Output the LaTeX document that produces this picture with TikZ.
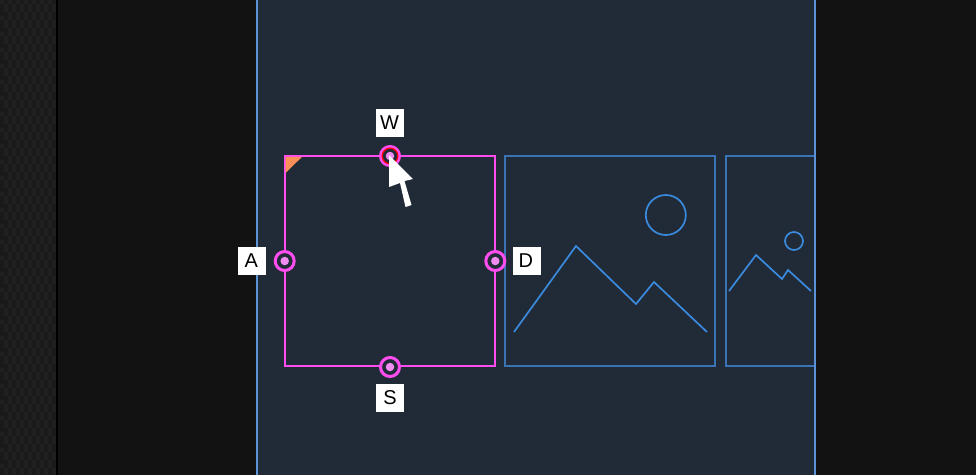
\documentclass[tikz,border=0pt]{standalone}
\usepackage{fontspec}
\setmainfont{Liberation Sans}
\definecolor{bgdark}{HTML}{121212}
\definecolor{texA}{HTML}{1A1A1A}
\definecolor{texB}{HTML}{202020}
\definecolor{panel}{HTML}{212B38}
\definecolor{panelline}{HTML}{5A94D8}
\definecolor{frameline}{HTML}{3A74B4}
\definecolor{artline}{HTML}{3A8ADE}
\definecolor{magenta1}{HTML}{FF4DF0}
\definecolor{dotfill}{HTML}{F08CF0}
\definecolor{cornerfill}{HTML}{F89058}
\tikzset{
  keylabel/.style={fill=white,text=black,inner sep=0pt,minimum width=28pt,minimum height=28pt,font=\fontsize{20}{20}\selectfont},
  handle/.style={circle,draw=magenta1,line width=3pt,fill=panel,minimum size=19pt,inner sep=0pt,outer sep=0pt},
  handledot/.style={circle,fill=dotfill,minimum size=8.5pt,inner sep=0pt},
  frameoutline/.style={draw=frameline,line width=1.6pt},
  art/.style={draw=artline,line width=1.7pt},
}
\begin{document}
\begin{tikzpicture}[x=1pt,y=-1pt]
\useasboundingbox (0,0) rectangle (976,475);
\fill[bgdark] (0,0) rectangle (976,475);
\fill[texA] (0,0) rectangle (56,475);
\begin{scope}
\clip (0,0) rectangle (56,474);
\foreach \i in {0,...,6}{\foreach \j in {0,...,59}{
  \pgfmathsetmacro{\xx}{\i*8+mod(\j,2)*4}
  \pgfmathsetmacro{\yy}{\j*8}
  \fill[texB] (\xx,\yy) rectangle ++(4,4);
  \fill[texB] (\xx+4,\yy+4) rectangle ++(4,4);
}}
\end{scope}
\fill[black] (56,0) rectangle (58,475);
\fill[panel] (257,0) rectangle (815,475);
\draw[panelline,line width=1.5pt] (257,0) -- (257,475) (815,0) -- (815,475);
% second frame
\draw[frameoutline] (505.1,156) rectangle (715.1,366);
\draw[art] (665.8,215) circle (20);
\draw[art] (514,332) -- (576,246) -- (636,304) -- (654,282) -- (707,332);
% third frame
\draw[frameoutline] (814,156) -- (725.8,156) -- (725.8,366) -- (814,366);
\draw[art] (794,241) circle (9);
\draw[art] (729,291) -- (756,255) -- (782,279) -- (788,270) -- (811,291);
% selected frame
\draw[magenta1,line width=1.5pt] (284.8,156) rectangle (494.8,366);
\fill[cornerfill] (285.6,156.8) -- (302,156.8) -- (285.6,173) -- cycle;
% handles
\node[handle] (top) at (390,156) {};
\node[handle] (left) at (284.7,261) {};
\node[handle] (right) at (495.3,261) {};
\node[handle] (bottom) at (390,367) {};
\draw[red,line width=1.2pt] (390,156) circle (7.8);
\node[handledot] (topd) at (390,156) {};
\node[handledot] (leftd) at (284.7,261) {};
\node[handledot] (rightd) at (495.3,261) {};
\node[handledot] (bottomd) at (390,367) {};
% labels
\node[keylabel] (W) at (390,123) {\raisebox{-0.8pt}{W}\kern1pt};
\node[keylabel] (A) at (252,261) {A\kern1.5pt};
\node[keylabel] (D) at (526.5,261) {D\kern1.5pt};
\node[keylabel] (S) at (390,398) {S};
% cursor
\fill[white] (389,155) -- (389,187) -- (400,183) -- (405.5,207) -- (411.5,205) -- (404.5,181) -- (413,179) -- cycle;
\end{tikzpicture}
\end{document}
